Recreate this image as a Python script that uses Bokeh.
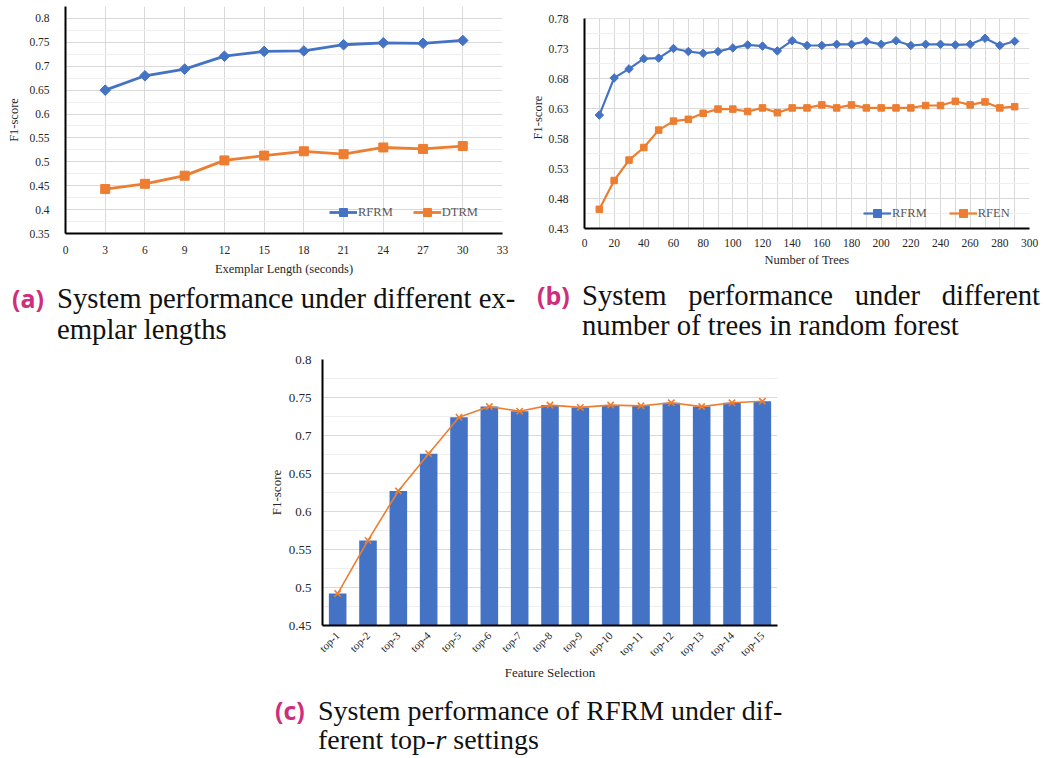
import math
from bokeh.plotting import figure
from bokeh.models import (FixedTicker, Legend, LegendItem, Div, Spacer, Range1d, FactorRange,
                          BoxAnnotation)
from bokeh.layouts import column, row
from bokeh.embed import file_html
from bokeh.resources import INLINE

BLUE = "#4472C4"
ORANGE = "#ED7D31"
TXT = "#262626"
SERIF = "Liberation Serif"

# ---------------- data (a) ----------------
a_x = [3, 6, 9, 12, 15, 18, 21, 24, 27, 30]
a_rfrm = [0.650, 0.680, 0.694, 0.721, 0.731, 0.732, 0.745, 0.749, 0.748, 0.754]
a_dtrm = [0.443, 0.454, 0.471, 0.503, 0.513, 0.522, 0.516, 0.530, 0.527, 0.533]
a_xticks = [0, 3, 6, 9, 12, 15, 18, 21, 24, 27, 30, 33]
a_yticks = [0.35, 0.4, 0.45, 0.5, 0.55, 0.6, 0.65, 0.7, 0.75, 0.8]
a_ylabels = ["0.35", "0.4", "0.45", "0.5", "0.55", "0.6", "0.65", "0.7", "0.75", "0.8"]

# ---------------- data (b) ----------------
b_x = [10, 20, 30, 40, 50, 60, 70, 80, 90, 100, 110, 120, 130, 140, 150,
       160, 170, 180, 190, 200, 210, 220, 230, 240, 250, 260, 270, 280, 290]
b_rfrm = [0.619, 0.681, 0.696, 0.713, 0.714, 0.730, 0.725, 0.722, 0.725, 0.731,
          0.736, 0.734, 0.726, 0.743, 0.735, 0.735, 0.737, 0.737, 0.742, 0.737,
          0.743, 0.735, 0.737, 0.737, 0.736, 0.737, 0.747, 0.735, 0.742]
b_rfen = [0.462, 0.510, 0.544, 0.565, 0.594, 0.609, 0.612, 0.622, 0.629, 0.629,
          0.625, 0.631, 0.623, 0.631, 0.631, 0.636, 0.631, 0.636, 0.631, 0.631,
          0.631, 0.631, 0.635, 0.635, 0.642, 0.636, 0.641, 0.631, 0.633]
b_xticks = [0, 20, 40, 60, 80, 100, 120, 140, 160, 180, 200, 220, 240, 260, 280, 300]
b_yticks = [0.43, 0.48, 0.53, 0.58, 0.63, 0.68, 0.73, 0.78]
b_ylabels = ["0.43", "0.48", "0.53", "0.58", "0.63", "0.68", "0.73", "0.78"]

# ---------------- data (c) ----------------
c_cats = ["top-1", "top-2", "top-3", "top-4", "top-5", "top-6", "top-7", "top-8",
          "top-9", "top-10", "top-11", "top-12", "top-13", "top-14", "top-15"]
c_f1 = [0.492, 0.562, 0.627, 0.676, 0.724, 0.738, 0.732, 0.740, 0.737, 0.740,
        0.739, 0.743, 0.738, 0.743, 0.745]
c_yticks = [0.45, 0.5, 0.55, 0.6, 0.65, 0.7, 0.75, 0.8]
c_ylabels = ["0.45", "0.5", "0.55", "0.6", "0.65", "0.7", "0.75", "0.8"]


def mids(ticks, extra_end=None):
    step = ticks[1] - ticks[0]
    out = [round(t + step / 2, 4) for t in ticks[:-1]]
    if extra_end is not None:
        out.append(extra_end)
    return out


def style_common(p, tick_px, title_px):
    p.outline_line_color = None
    p.background_fill_color = "white"
    p.border_fill_color = "white"
    for ax in (p.xaxis[0], p.yaxis[0]):
        ax.axis_line_color = "black"
        ax.axis_line_width = 2
        ax.major_tick_line_color = None
        ax.minor_tick_line_color = None
        ax.major_label_text_font = SERIF
        ax.major_label_text_font_size = tick_px
        ax.major_label_text_color = TXT
        ax.axis_label_text_font = SERIF
        ax.axis_label_text_font_size = title_px
        ax.axis_label_text_font_style = "normal"
        ax.axis_label_text_color = TXT


# ---------------- figure (a) ----------------
fa = figure(frame_width=437, frame_height=227, title=None,
            x_range=Range1d(0, 33), y_range=Range1d(0.35, 0.825),
            output_backend="svg", toolbar_location=None,
            min_border_left=65, min_border_right=18, min_border_top=6, min_border_bottom=47)
style_common(fa, "11.5px", "12.5px")
fa.xaxis.ticker = FixedTicker(ticks=a_xticks)
fa.yaxis.ticker = FixedTicker(ticks=a_yticks, minor_ticks=mids(a_yticks, 0.825))
fa.yaxis.major_label_overrides = {t: l for t, l in zip(a_yticks, a_ylabels)}
fa.xaxis.axis_label = "Exemplar Length (seconds)"
fa.yaxis.axis_label = "F1-score"
fa.xaxis.major_label_standoff = 6
fa.yaxis.major_label_standoff = 10
fa.xaxis.axis_label_standoff = 5
fa.yaxis.axis_label_standoff = 5
fa.xgrid.grid_line_color = "#D9D9D9"
fa.ygrid.grid_line_color = "#D9D9D9"
fa.ygrid.minor_grid_line_color = "#EEEEEE"

la1 = fa.line(a_x, a_rfrm, color=BLUE, line_width=2.8)
sa1 = fa.scatter(a_x, a_rfrm, marker="square", angle=math.pi / 4, size=7.5, color=BLUE)
la2 = fa.line(a_x, a_dtrm, color=ORANGE, line_width=2.8)
sa2 = fa.scatter(a_x, a_dtrm, marker="square", size=9, color=ORANGE)
lega = Legend(items=[LegendItem(label="RFRM", renderers=[la1, sa1]),
                     LegendItem(label="DTRM", renderers=[la2, sa2])],
              orientation="horizontal", location=(264, 11), glyph_width=28, glyph_height=20,
              label_standoff=1, spacing=20, padding=0, margin=0,
              background_fill_alpha=0, border_line_color=None,
              label_text_font=SERIF, label_text_font_size="12.5px", label_text_color="#595959")
fa.add_layout(lega, "center")

# ---------------- figure (b) ----------------
# frame starts at the same top border as (a); the strip above 0.78 is left blank
b_top_extra = 0.35 * 12 / 210
fb = figure(frame_width=445, frame_height=222, title=None,
            x_range=Range1d(0, 300), y_range=Range1d(0.43, 0.78 + b_top_extra),
            output_backend="svg", toolbar_location=None,
            min_border_left=64, min_border_right=16, min_border_top=6, min_border_bottom=52)
style_common(fb, "11.5px", "12.5px")
fb.xaxis.ticker = FixedTicker(ticks=b_xticks, minor_ticks=mids(b_xticks))
fb.yaxis.ticker = FixedTicker(ticks=b_yticks, minor_ticks=mids(b_yticks))
fb.yaxis.major_label_overrides = {t: l for t, l in zip(b_yticks, b_ylabels)}
fb.yaxis.bounds = (0.43, 0.78)
fb.xaxis.axis_label = "Number of Trees"
fb.yaxis.axis_label = "F1-score"
fb.xaxis.major_label_standoff = 4
fb.yaxis.major_label_standoff = 10
fb.xaxis.axis_label_standoff = 3
fb.yaxis.axis_label_standoff = 0
fb.xgrid.grid_line_color = "#D9D9D9"
fb.xgrid.minor_grid_line_color = "#D9D9D9"
fb.ygrid.grid_line_color = "#D9D9D9"
fb.ygrid.minor_grid_line_color = "#EEEEEE"
fb.add_layout(BoxAnnotation(bottom=0.7805, fill_color="white", fill_alpha=1,
                            line_color=None, level="underlay"))

lb1 = fb.line(b_x, b_rfrm, color=BLUE, line_width=2.2)
sb1 = fb.scatter(b_x, b_rfrm, marker="square", angle=math.pi / 4, size=6, color=BLUE)
lb2 = fb.line(b_x, b_rfen, color=ORANGE, line_width=2.2)
sb2 = fb.scatter(b_x, b_rfen, marker="square", size=6.5, color=ORANGE)
legb = Legend(items=[LegendItem(label="RFRM", renderers=[lb1, sb1]),
                     LegendItem(label="RFEN", renderers=[lb2, sb2])],
              orientation="horizontal", location=(279, 5), glyph_width=28, glyph_height=20,
              label_standoff=1, spacing=22, padding=0, margin=0,
              background_fill_alpha=0, border_line_color=None,
              label_text_font=SERIF, label_text_font_size="12.5px", label_text_color="#595959")
fb.add_layout(legb, "center")

# ---------------- figure (c) ----------------
fc = figure(frame_width=455, frame_height=266, title=None,
            x_range=FactorRange(*c_cats), y_range=Range1d(0.45, 0.8),
            output_backend="svg", toolbar_location=None,
            min_border_left=62, min_border_right=13, min_border_top=12, min_border_bottom=62)
style_common(fc, "13px", "13px")
fc.xaxis.major_label_text_font_size = "11px"
fc.yaxis.ticker = FixedTicker(ticks=c_yticks, minor_ticks=mids(c_yticks))
fc.yaxis.major_label_overrides = {t: l for t, l in zip(c_yticks, c_ylabels)}
fc.xaxis.major_label_orientation = math.pi / 4
fc.xaxis.axis_label = "Feature Selection"
fc.yaxis.axis_label = "F1-score"
fc.xaxis.major_label_standoff = 2
fc.yaxis.major_label_standoff = 5
fc.xaxis.axis_label_standoff = 0
fc.yaxis.axis_label_standoff = 2
fc.xgrid.grid_line_color = None
fc.ygrid.grid_line_color = "#D9D9D9"
fc.ygrid.minor_grid_line_color = "#EEEEEE"

fc.vbar(x=c_cats, top=c_f1, bottom=0.45, width=0.58, fill_color=BLUE, line_color=None)
fc.line(c_cats, c_f1, color=ORANGE, line_width=1.6)
fc.scatter(c_cats, c_f1, marker="x", size=9, line_color=ORANGE, line_width=1.6)

# ---------------- captions ----------------
LBL = "font-family:'Open Sans';font-weight:700;font-size:25px;color:#CE2E7E;"


def caption(label, label_left, text_left, text_w, body, pad_top, lh, fs):
    cap = f"font-family:'Liberation Serif';font-size:{fs}px;color:#111;"
    return (
        f'<div style="position:relative;width:100%;height:100%;">'
        f'<div style="position:absolute;left:{label_left}px;top:{pad_top}px;line-height:{lh}px;{LBL}">{label}</div>'
        f'<div style="position:absolute;left:{text_left}px;top:{pad_top}px;width:{text_w}px;line-height:{lh}px;{cap}">{body}</div>'
        f'</div>'
    )


capA = Div(width=520, height=67, margin=(0, 0, 0, 0),
           text=caption("(a)", 12, 57, 480, "System performance under different ex-<br>emplar lengths",
                        -9, 31, 28.7))
capB = Div(width=525, height=67, margin=(0, 0, 0, 0),
           text=caption("(b)", 17, 62, 458,
                        '<div style="text-align:justify;text-align-last:justify;">System performance under different</div>'
                        '<div>number of trees in random forest</div>', -12, 30, 28.7))
capC = Div(width=530, height=65, margin=(0, 0, 0, 0),
           text=caption("(c)", 15, 58, 472, "System performance of RFRM under dif-<br>ferent top-<i>r</i> settings",
                        -3, 29, 28))

layout = column(
    row(fa, fb),
    row(capA, capB),
    row(Spacer(width=260, height=340), fc),
    row(Spacer(width=260, height=65), capC),
)

open("out.html", "w").write(file_html(layout, INLINE))
